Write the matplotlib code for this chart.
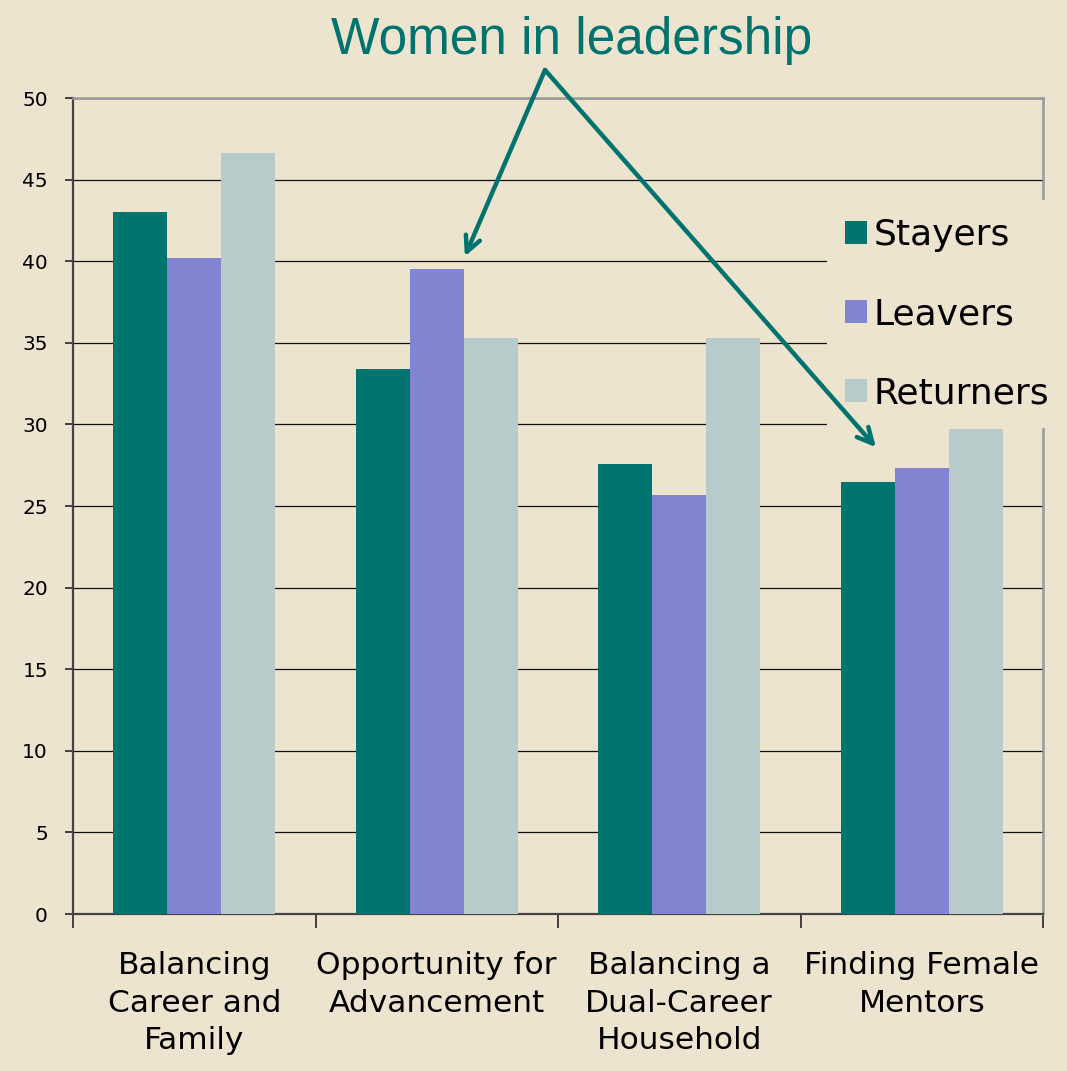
import matplotlib.pyplot as plt
import numpy as np

# values
categories = ['Balancing\nCareer and\nFamily', 'Opportunity for\nAdvancement',
              'Balancing a\nDual-Career\nHousehold', 'Finding Female\nMentors']
stayers = [43.0, 33.4, 27.6, 26.5]
leavers = [40.2, 39.5, 25.7, 27.3]
returners = [46.6, 35.3, 35.3, 29.7]
series_names = ['Stayers', 'Leavers', 'Returners']
colors = ['#007570', '#8185D1', '#B7CBCA']

bg = '#EDE4CF'
teal = '#00736E'

fig = plt.figure(figsize=(10.67, 10.71), dpi=100, facecolor=bg)
ax = fig.add_axes([73/1067, 157/1071, 970/1067, 816/1071])
ax.set_facecolor(bg)

x = np.arange(len(categories))
w = 0.2227
for i, (vals, name) in enumerate(zip([stayers, leavers, returners], series_names)):
    ax.bar(x + (i - 1) * w, vals, w, color=colors[i], label=name, zorder=3)

ax.set_xlim(-0.5, len(categories) - 0.5)
ax.set_ylim(0, 50)
ax.set_yticks(np.arange(0, 51, 5))
ax.grid(axis='y', color='#111111', lw=0.9, zorder=1)

# category labels at centers, tick marks at boundaries
ax.set_xticks(x)
ax.set_xticklabels(categories, fontsize=22.5, linespacing=1.36)
ax.set_xticks(np.arange(-0.5, len(categories)), minor=True)
ax.tick_params(axis='x', which='major', length=0, pad=27)
ax.tick_params(axis='x', which='minor', length=10, width=1.3, color='#333333', direction='out')
ax.tick_params(axis='y', length=6, width=1.3, color='#333333', labelsize=14.5, pad=12)

for s in ['left', 'bottom']:
    ax.spines[s].set_color('#444444')
    ax.spines[s].set_linewidth(1.6)
for s in ['top', 'right']:
    ax.spines[s].set_color('#999999')
    ax.spines[s].set_linewidth(1.8)

leg = ax.legend(loc='upper left', bbox_to_anchor=(827/1067, 1 - 200/1071),
                bbox_transform=fig.transFigure, fontsize=26, frameon=True,
                facecolor=bg, edgecolor='none', framealpha=1, fancybox=False,
                handlelength=0.6, handleheight=0.6, handletextpad=0.2,
                labelspacing=1.25, borderpad=0.5, borderaxespad=0)
# above grid and spines, below the bars
leg.set_zorder(2.8)

fig.text(0.536, 0.962, 'Women in leadership', color=teal, fontsize=37,
         family='Liberation Sans', ha='center', va='center')

apex = (545/1067, 1 - 70/1071)
for tip in [(1.116, 40.3), (2.811, 28.6)]:
    ax.annotate('', xy=tip, xycoords='data', xytext=apex, textcoords='figure fraction',
                arrowprops=dict(arrowstyle='->,head_length=1.1,head_width=0.55',
                                color=teal, lw=3.2, shrinkA=0, shrinkB=0),
                annotation_clip=False, zorder=12)

fig.savefig('out.png', dpi=100, facecolor=bg)
